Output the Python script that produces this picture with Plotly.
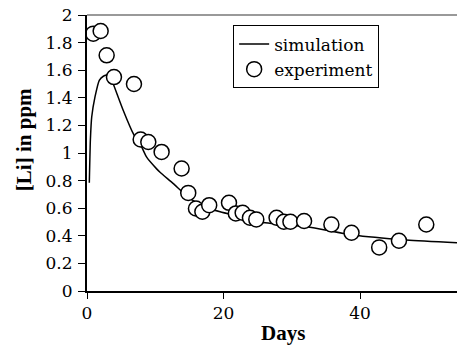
import plotly.graph_objects as go

sim_days = [0.34, 0.5, 0.69, 1.17, 1.8, 2.39, 3.0, 3.37, 3.85, 5.3, 6.78, 8.0, 8.74,
            10.2, 10.7, 12.6, 15.1, 17.5, 19.5, 22.4, 25.3, 32.2, 39.0, 46.8, 54.2]
sim_li = [0.784, 1.1, 1.261, 1.406, 1.527, 1.556, 1.565, 1.556, 1.50, 1.31, 1.14, 1.044, 0.97,
          0.885, 0.86, 0.78, 0.67, 0.605, 0.574, 0.538, 0.50, 0.465, 0.405, 0.369, 0.349]

exp_days = [0.92, 2.0, 2.88, 3.95, 6.88, 7.86, 8.98, 10.93, 13.86, 14.83, 15.96, 16.9, 17.9,
            20.8, 21.8, 22.8, 23.87, 24.8, 27.77, 28.84, 29.8, 31.8, 35.8, 38.75, 42.8, 45.7, 49.7]
exp_li = [1.865, 1.884, 1.708, 1.55, 1.50, 1.098, 1.08, 1.008, 0.888, 0.711, 0.598, 0.574, 0.622,
          0.639, 0.562, 0.567, 0.531, 0.519, 0.531, 0.502, 0.502, 0.507, 0.482, 0.422, 0.316, 0.364, 0.482]

x_ticks = [0, 20, 40]
y_ticks = [0, 0.2, 0.4, 0.6, 0.8, 1, 1.2, 1.4, 1.6, 1.8, 2]
y_labels = ["0", "0.2", "0.4", "0.6", "0.8", "1", "1.2", "1.4", "1.6", "1.8", "2"]

FONT = "Liberation Serif"
FONT2 = "DejaVu Serif"

fig = go.Figure()
fig.add_trace(go.Scatter(x=sim_days, y=sim_li, mode="lines", name="simulation",
                         line=dict(color="black", width=1.5, shape="spline", smoothing=0.6)))
fig.add_trace(go.Scatter(x=exp_days, y=exp_li, mode="markers", name="experiment",
                         marker=dict(symbol="circle", size=15, color="white",
                                     line=dict(color="black", width=1.5))))

fig.update_layout(
    template="none",
    width=457, height=348,
    margin=dict(l=87, r=0, t=15, b=57),
    paper_bgcolor="white", plot_bgcolor="white",
    font=dict(family=FONT2, size=17, color="black"),
    showlegend=True,
    legend=dict(x=0.395, y=0.962, xanchor="left", yanchor="top",
                bordercolor="black", borderwidth=1, bgcolor="white",
                font=dict(family=FONT2, size=17, color="black"), tracegroupgap=0,
                itemwidth=30),
    xaxis=dict(range=[0, 54.2], tickvals=x_ticks, ticks="outside", ticklen=6,
               tickwidth=1, tickcolor="black", showline=True, linecolor="black",
               linewidth=2, showgrid=False, zeroline=False,
               tickfont=dict(family=FONT2, size=17, color="black")),
    yaxis=dict(range=[0, 2], tickvals=y_ticks, ticktext=y_labels, ticks="outside",
               ticklen=7, tickwidth=1, tickcolor="black", showline=True,
               linecolor="black", linewidth=2, showgrid=False, zeroline=False,
               ticklabelstandoff=2,
               tickfont=dict(family=FONT2, size=17, color="black")),
    shapes=[dict(type="line", xref="paper", yref="paper", x0=0, x1=1, y0=1, y1=1,
                 line=dict(color="#777777", width=1.5))],
    annotations=[
        dict(text="[Li] in ppm", xref="paper", yref="paper", x=-0.17, y=0.547,
             textangle=-90, showarrow=False,
             font=dict(family=FONT, size=21, weight="bold", color="black"),
             xanchor="center", yanchor="middle"),
        dict(text="Days", xref="paper", yref="paper", x=0.53, y=-0.152,
             showarrow=False,
             font=dict(family=FONT, size=21, weight="bold", color="black"),
             xanchor="center", yanchor="middle"),
    ],
)

fig.write_html("out.html")
